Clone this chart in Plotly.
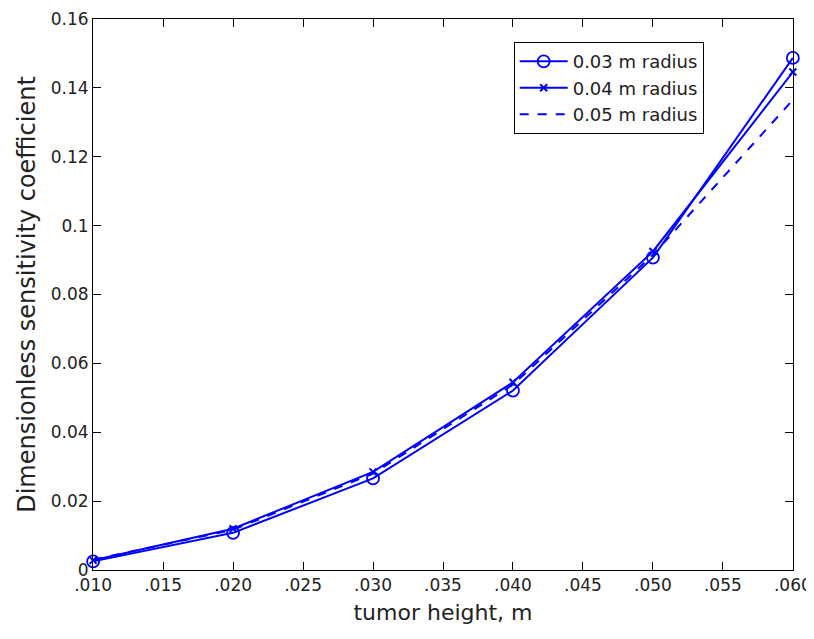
import plotly.graph_objects as go

heights = [0.010, 0.020, 0.030, 0.040, 0.050, 0.060]
r03 = [0.0025, 0.0108, 0.0266, 0.0521, 0.0907, 0.1487]
r04 = [0.0028, 0.0120, 0.0285, 0.0545, 0.0925, 0.1446]
r05 = [0.0030, 0.0117, 0.0280, 0.0538, 0.0915, 0.1365]
xticks = [0.010, 0.015, 0.020, 0.025, 0.030, 0.035, 0.040, 0.045, 0.050, 0.055, 0.060]
xticklabels = [".010", ".015", ".020", ".025", ".030", ".035", ".040", ".045", ".050", ".055", ".060"]
yticks = [0, 0.02, 0.04, 0.06, 0.08, 0.1, 0.12, 0.14, 0.16]
yticklabels = ["0", "0.02", "0.04", "0.06", "0.08", "0.1", "0.12", "0.14", "0.16"]

blue = "#0000ff"
fig = go.Figure()
fig.add_trace(go.Scatter(x=heights, y=r03, mode="lines+markers", name="0.03 m radius",
                         line=dict(color=blue, width=2), cliponaxis=False,
                         marker=dict(symbol="circle-open", size=12, color=blue, line=dict(width=1.8))))
fig.add_trace(go.Scatter(x=heights, y=r04, mode="lines+markers", name="0.04 m radius",
                         line=dict(color=blue, width=2), cliponaxis=False,
                         marker=dict(symbol="x-thin-open", size=7, color=blue, line=dict(width=2))))
fig.add_trace(go.Scatter(x=heights, y=r05, mode="lines", name="0.05 m radius", cliponaxis=False,
                         line=dict(color=blue, width=2, dash="dash")))

font = "DejaVu Sans, Liberation Sans, sans-serif"
fig.update_layout(
    width=806, height=631,
    margin=dict(l=85, r=21, t=11, b=69),
    paper_bgcolor="white", plot_bgcolor="white",
    font=dict(family=font, size=17, color="#222222"),
    showlegend=True,
    legend=dict(x=0.601, y=0.958, xanchor="left", yanchor="top",
                bordercolor="black", borderwidth=1, bgcolor="white",
                font=dict(size=18), tracegroupgap=0, itemwidth=48),
    xaxis=dict(range=[0.00999, 0.06001], tickvals=xticks, ticktext=xticklabels,
               automargin=False, ticklabeloverflow="allow",
               showgrid=False, zeroline=False, showline=True, linecolor="black",
               mirror="ticks", ticks="inside", ticklen=8, tickcolor="black",
               title=dict(text="tumor height, m", font=dict(size=22), standoff=10)),
    yaxis=dict(range=[0, 0.16], tickvals=yticks, ticktext=yticklabels,
               automargin=False, ticklabeloverflow="allow",
               showgrid=False, zeroline=False, showline=True, linecolor="black",
               mirror="ticks", ticks="inside", ticklen=8, tickcolor="black",
               title=dict(text="Dimensionless sensitivity coefficient", font=dict(size=24), standoff=8)),
)
fig.write_html("out.html")
